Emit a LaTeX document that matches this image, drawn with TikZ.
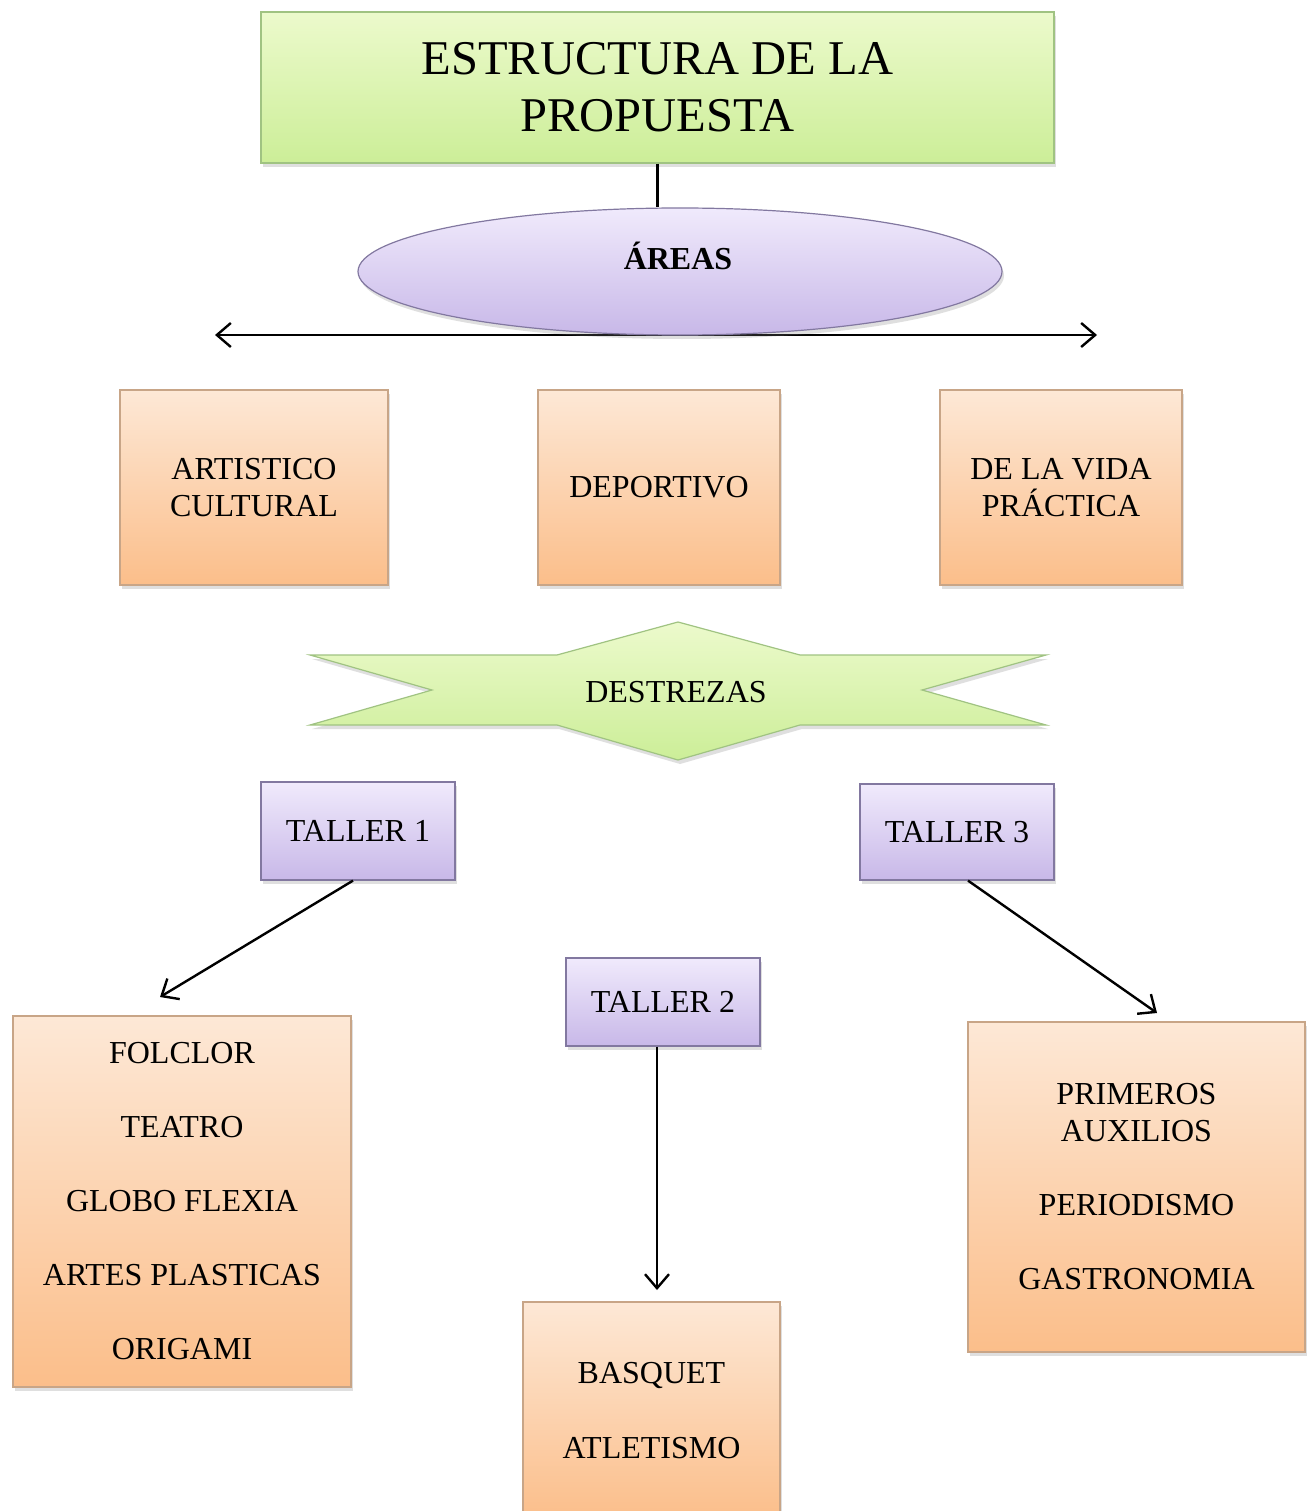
\documentclass[tikz,border=0pt]{standalone}
\usepackage{fontspec}
\setmainfont{Liberation Serif}
\usetikzlibrary{arrows.meta,shadows,shapes.geometric}
\definecolor{orangetop}{RGB}{253,232,214}
\definecolor{orangebot}{RGB}{251,190,138}
\definecolor{orangeborder}{RGB}{200,165,135}
\definecolor{purpletop}{RGB}{240,234,252}
\definecolor{purplebot}{RGB}{200,184,232}
\definecolor{purpleborder}{RGB}{130,120,160}
\definecolor{greentop}{RGB}{236,250,204}
\definecolor{greenbot}{RGB}{204,238,152}
\definecolor{greenborder}{RGB}{160,195,130}
\begin{document}
\begin{tikzpicture}[x=1pt,y=-1pt,
  txt/.style={font=\fontsize{32}{37}\selectfont, align=center},
  shad/.style={drop shadow={shadow xshift=2pt,shadow yshift=-4pt,opacity=0.25}},
  orangebox/.style={draw=orangeborder, line width=1.2pt, top color=orangetop, bottom color=orangebot, shad, inner sep=0pt, txt},
  purplebox/.style={draw=purpleborder, line width=1.2pt, top color=purpletop, bottom color=purplebot, shad, inner sep=0pt, txt},
  greenbox/.style={draw=greenborder, line width=1.2pt, top color=greentop, bottom color=greenbot, shad, inner sep=0pt},
  conn/.style={line width=2.4pt, black},
  arr/.style={conn, -{Straight Barb[length=14pt,width=24pt,line width=2.4pt]}},
  darr/.style={conn, {Straight Barb[length=14pt,width=24pt,line width=2.4pt]}-{Straight Barb[length=14pt,width=24pt,line width=2.4pt]}}
]
\clip (0,0) rectangle (1307,1511);
\fill[white] (0,0) rectangle (1307,1511);

% title
\node[greenbox, minimum width=793pt, minimum height=151pt, align=center,
      font=\fontsize{48.5}{57}\selectfont] (title) at (657.5,87.5)
      {ESTRUCTURA DE LA\\PROPUESTA};

% horizontal double arrow
\coordinate (la) at (215,335);
\coordinate (ra) at (1097,335);
\draw[darr] (la) -- (ra);

% areas ellipse
\node[ellipse, draw=purpleborder, line width=1.2pt, top color=purpletop, bottom color=purplebot, shad,
      minimum width=644pt, minimum height=127pt, inner sep=0pt] (areas) at (680,271.5) {};
\node[txt, font=\fontsize{32}{37}\selectfont\bfseries] (areaslbl) at (678,256) {ÁREAS};
\draw[conn] (title.south) -- (title.south |- areas.north);

% areas boxes
\node[orangebox, minimum width=268pt, minimum height=195pt] (art) at (254,487.5) {ARTISTICO\\CULTURAL};
\node[orangebox, minimum width=242pt, minimum height=195pt] (dep) at (659,487.5) {DEPORTIVO};
\node[orangebox, minimum width=242pt, minimum height=195pt] (vida) at (1061,487.5) {DE LA VIDA\\PRÁCTICA};

% destrezas star
\path[draw=greenborder, line width=1.2pt, top color=greentop, bottom color=greenbot, shad]
  (310,655) -- (557,655) -- (678,622) -- (800,655) -- (1046,655) -- (922,690) --
  (1046,725) -- (800,725) -- (678,760) -- (557,725) -- (310,725) -- (432,690) -- cycle;
\node[txt] (destrezas) at (676,692) {DESTREZAS};

% talleres
\node[purplebox, minimum width=194pt, minimum height=98pt] (t1) at (358,831) {TALLER 1};
\node[purplebox, minimum width=194pt, minimum height=96pt] (t3) at (957,832) {TALLER 3};
\node[purplebox, minimum width=194pt, minimum height=88pt] (t2) at (663,1002) {TALLER 2};

% lists
\node[orangebox, minimum width=338pt, minimum height=371pt, font=\fontsize{32}{74}\selectfont] (list1) at (182,1201.5)
  {FOLCLOR\\TEATRO\\GLOBO FLEXIA\\ARTES PLASTICAS\\ORIGAMI};
\node[orangebox, minimum width=257pt, minimum height=218pt, font=\fontsize{32}{75}\selectfont] (list2) at (651.5,1411)
  {BASQUET\\ATLETISMO};
\node[orangebox, minimum width=337pt, minimum height=330pt] (list3) at (1136.5,1187)
  {PRIMEROS\\AUXILIOS\\[37pt]PERIODISMO\\[37pt]GASTRONOMIA};

% connectors
\coordinate (e1) at (160,997);
\coordinate (e2) at (657,1290);
\coordinate (e3) at (1157,1013);
\draw[arr] ([xshift=-5pt]t1.south) -- (e1);
\draw[arr] ([xshift=-6pt]t2.south) -- (e2);
\draw[arr] ([xshift=11pt]t3.south) -- (e3);
\end{tikzpicture}
\end{document}
